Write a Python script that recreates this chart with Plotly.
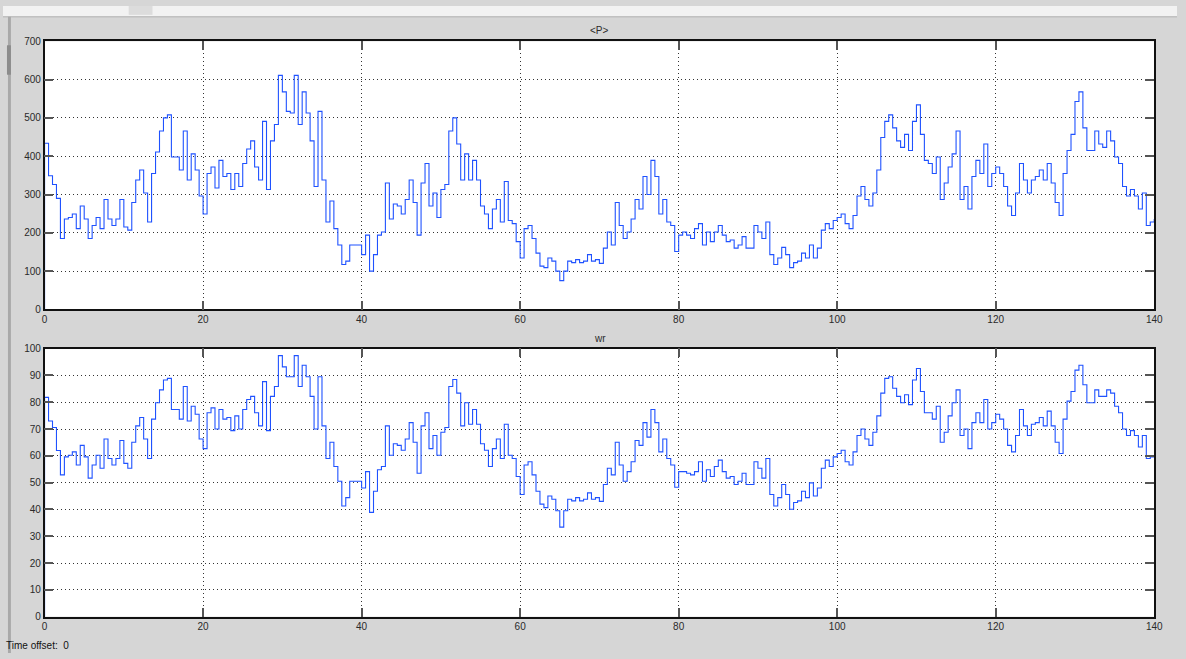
"""Simulink-style scope: <P> and wr over 140 s."""

import plotly.graph_objects as go
from plotly.subplots import make_subplots

BLUE = "#1f52ff"
BG = "#d6d6d6"
GRID = "#333333"
TXT = "#2a2a2a"

T_STEP = 0.5

# <P>, one reading every 0.5 s from t=0 to t=140 (the scope starts at 0)
p_vals = [
    434, 349, 326, 290, 185, 236, 240, 249, 211, 270, 236, 185, 219, 240, 211, 287,
    236, 219, 236, 287, 215, 207, 279, 338, 364, 304, 228, 355, 411, 466, 500, 508,
    398, 398, 364, 466, 338, 406, 364, 296, 249, 355, 372, 317, 389, 347, 355, 313,
    355, 321, 381, 419, 440, 372, 338, 491, 313, 440, 483, 611, 568, 517, 513, 611,
    483, 568, 513, 440, 321, 517, 338, 228, 283, 211, 168, 117, 126, 168, 168, 168,
    143, 194, 100, 143, 194, 202, 330, 236, 275, 270, 249, 287, 338, 279, 194, 330,
    381, 270, 304, 240, 313, 326, 466, 500, 432, 338, 406, 338, 389, 338, 270, 249,
    211, 262, 287, 228, 334, 232, 224, 177, 134, 211, 219, 185, 147, 113, 109, 134,
    126, 100, 75, 100, 126, 122, 130, 122, 126, 143, 126, 130, 120, 160, 202, 168,
    279, 219, 185, 202, 236, 287, 262, 347, 300, 389, 347, 249, 287, 228, 219, 151,
    194, 202, 194, 185, 211, 224, 168, 202, 177, 202, 219, 194, 177, 181, 160, 168,
    190, 160, 160, 219, 202, 185, 228, 143, 117, 134, 162, 143, 109, 122, 126, 147,
    134, 168, 134, 160, 207, 224, 211, 232, 240, 249, 224, 211, 245, 296, 321, 287,
    270, 304, 364, 449, 491, 508, 474, 440, 423, 457, 415, 491, 534, 457, 389, 381,
    355, 398, 287, 330, 372, 406, 466, 287, 321, 262, 347, 389, 355, 432, 321, 355,
    372, 355, 321, 270, 245, 304, 381, 338, 304, 338, 347, 364, 338, 381, 330, 279,
    245, 355, 415, 457, 543, 568, 474, 415, 415, 466, 432, 423, 466, 440, 398, 381,
    321, 296, 313, 296, 262, 304, 219, 228, 236,
]

# wr, same sampling
wr_vals = [
    81.8, 73.0, 70.6, 62.0, 52.9, 59.6, 60.2, 61.5, 56.6, 63.9, 59.6, 51.7, 56.6, 60.2, 55.4, 66.3,
    59.0, 56.6, 59.0, 65.7, 57.2, 55.4, 65.1, 71.2, 74.3, 66.3, 59.0, 73.7, 79.8, 84.6, 88.3, 88.9,
    77.3, 77.3, 73.7, 85.9, 73.0, 78.5, 75.5, 66.3, 62.7, 76.1, 77.9, 70.0, 77.3, 73.7, 74.3, 69.4,
    74.9, 70.0, 77.3, 81.0, 82.2, 76.1, 71.2, 87.7, 69.4, 82.2, 85.9, 97.4, 93.2, 89.5, 89.5, 97.4,
    85.9, 93.8, 89.5, 82.2, 70.0, 89.5, 71.2, 59.0, 65.1, 56.0, 50.5, 41.3, 44.4, 50.5, 50.5, 50.5,
    48.0, 54.1, 38.9, 46.8, 54.8, 56.0, 71.2, 60.2, 64.5, 63.9, 62.1, 66.3, 72.4, 65.1, 53.5, 71.2,
    76.1, 62.7, 67.6, 60.2, 68.8, 70.6, 85.9, 88.5, 83.4, 71.2, 79.8, 71.8, 77.3, 71.8, 64.5, 62.1,
    56.0, 62.7, 66.3, 59.0, 71.8, 60.2, 59.0, 52.3, 45.6, 56.6, 57.8, 52.9, 46.8, 42.0, 40.7, 45.0,
    43.8, 39.5, 33.4, 39.5, 43.8, 43.2, 44.4, 43.2, 43.8, 46.2, 43.8, 44.4, 43.0, 49.3, 55.4, 52.9,
    65.1, 56.6, 50.5, 54.1, 57.8, 65.7, 63.9, 72.4, 67.0, 77.3, 72.4, 61.5, 66.3, 59.0, 56.6, 48.3,
    54.1, 54.1, 53.5, 52.9, 54.1, 57.8, 50.5, 54.8, 52.3, 56.0, 58.4, 54.1, 51.7, 52.3, 49.3, 50.5,
    53.5, 49.3, 49.3, 57.8, 55.4, 51.7, 59.0, 45.6, 41.3, 44.4, 49.3, 45.6, 40.1, 42.6, 43.2, 46.8,
    44.4, 49.9, 45.0, 48.0, 55.4, 58.4, 56.0, 59.6, 60.9, 62.1, 57.8, 56.6, 61.5, 67.6, 70.0, 66.3,
    63.9, 68.8, 74.9, 83.4, 88.9, 89.5, 85.2, 82.2, 79.8, 82.8, 79.1, 88.3, 92.6, 84.0, 76.1, 76.1,
    73.7, 78.5, 65.1, 68.8, 74.9, 79.8, 84.6, 67.6, 70.0, 62.7, 72.4, 76.1, 72.4, 81.0, 70.0, 72.4,
    75.5, 73.7, 70.0, 63.9, 61.5, 67.6, 77.3, 71.2, 67.6, 71.8, 72.4, 74.3, 71.2, 76.7, 71.2, 65.1,
    60.9, 73.7, 80.4, 84.0, 92.0, 93.8, 86.5, 79.8, 79.8, 84.6, 82.2, 82.2, 84.6, 83.4, 78.5, 76.1,
    70.0, 67.6, 69.4, 67.6, 63.3, 67.6, 59.0, 59.6, 60.2,
]

t_vals = [i * T_STEP for i in range(len(p_vals))]

# scope output starts from zero at t=0
t_plot = [0.0] + t_vals
p_plot = [0] + p_vals
wr_plot = [0] + wr_vals

X_TICKS = [0, 20, 40, 60, 80, 100, 120, 140]
P_TICKS = [0, 100, 200, 300, 400, 500, 600, 700]
WR_TICKS = [0, 10, 20, 30, 40, 50, 60, 70, 80, 90, 100]

W, H = 1186, 659


def px(x):
    return x / W


def py(y):
    return 1 - y / H


fig = make_subplots(rows=2, cols=1)
fig.add_trace(go.Scatter(
    x=t_plot, y=p_plot, mode="lines", line=dict(color=BLUE, width=1.1, shape="hv"),
    showlegend=False, hoverinfo="x+y",
), row=1, col=1)
fig.add_trace(go.Scatter(
    x=t_plot, y=wr_plot, mode="lines", line=dict(color=BLUE, width=1.1, shape="hv"),
    showlegend=False, hoverinfo="x+y",
), row=2, col=1)

axis_style = dict(
    showline=True, linecolor="#111111", linewidth=1.5, mirror="ticks",
    ticks="inside", ticklen=9, tickwidth=1.5, tickcolor="#555555",
    showgrid=True, gridcolor=GRID, griddash="1px,3px", gridwidth=1,
    zeroline=False, tickfont=dict(family="Liberation Sans", size=10, color=TXT),
)

fig.update_xaxes(range=[0, 140], tickvals=X_TICKS, domain=[px(42), px(1163)], **axis_style)
fig.update_yaxes(**axis_style)
fig.update_yaxes(range=[0, 700], tickvals=P_TICKS, domain=[py(309), py(36)], row=1, col=1)
fig.update_yaxes(range=[0, 100], tickvals=WR_TICKS, domain=[py(622), py(349)], row=2, col=1)

shapes = [
    # window chrome at the top and left edge
    dict(type="rect", xref="paper", yref="paper", x0=0, x1=1, y0=py(11), y1=1,
         fillcolor="#f2f2f2", line_width=0, layer="below"),
    dict(type="line", xref="paper", yref="paper", x0=0, x1=1, y0=py(11), y1=py(11),
         line=dict(color="#b0b0b0", width=1)),
    dict(type="rect", xref="paper", yref="paper", x0=px(127), x1=px(151), y0=py(9), y1=1,
         fillcolor="#dcdcdc", line_width=0, layer="below"),
    dict(type="rect", xref="paper", yref="paper", x0=px(5), x1=px(8), y0=0, y1=py(11),
         fillcolor="#a9a9a9", line_width=0, layer="below"),
    dict(type="rect", xref="paper", yref="paper", x0=px(4), x1=px(8), y0=py(70), y1=py(40),
         fillcolor="#8c8c8c", line_width=0, layer="below"),
]

title_font = dict(family="Liberation Sans", size=10, color=TXT)
annotations = [
    dict(text="&lt;P&gt;", x=px(603), y=py(25), xref="paper", yref="paper",
         xanchor="center", yanchor="middle", showarrow=False, font=title_font),
    dict(text="wr", x=px(603), y=py(339), xref="paper", yref="paper",
         xanchor="center", yanchor="middle", showarrow=False, font=title_font),
    dict(text="Time offset:  0", x=px(1), y=py(651), xref="paper", yref="paper",
         xanchor="left", yanchor="middle", showarrow=False,
         font=dict(family="Liberation Sans", size=10, color="#111111")),
]

fig.update_layout(
    width=W, height=H, autosize=False,
    margin=dict(l=0, r=0, t=0, b=0),
    paper_bgcolor=BG, plot_bgcolor="white",
    shapes=shapes, annotations=annotations,
    showlegend=False,
)

# drop the browser's default body margin so the figure fills the window
fig.write_html(
    "out.html",
    config={"displayModeBar": False},
    post_script="document.body.style.margin='0';document.body.style.overflow='hidden';",
)
